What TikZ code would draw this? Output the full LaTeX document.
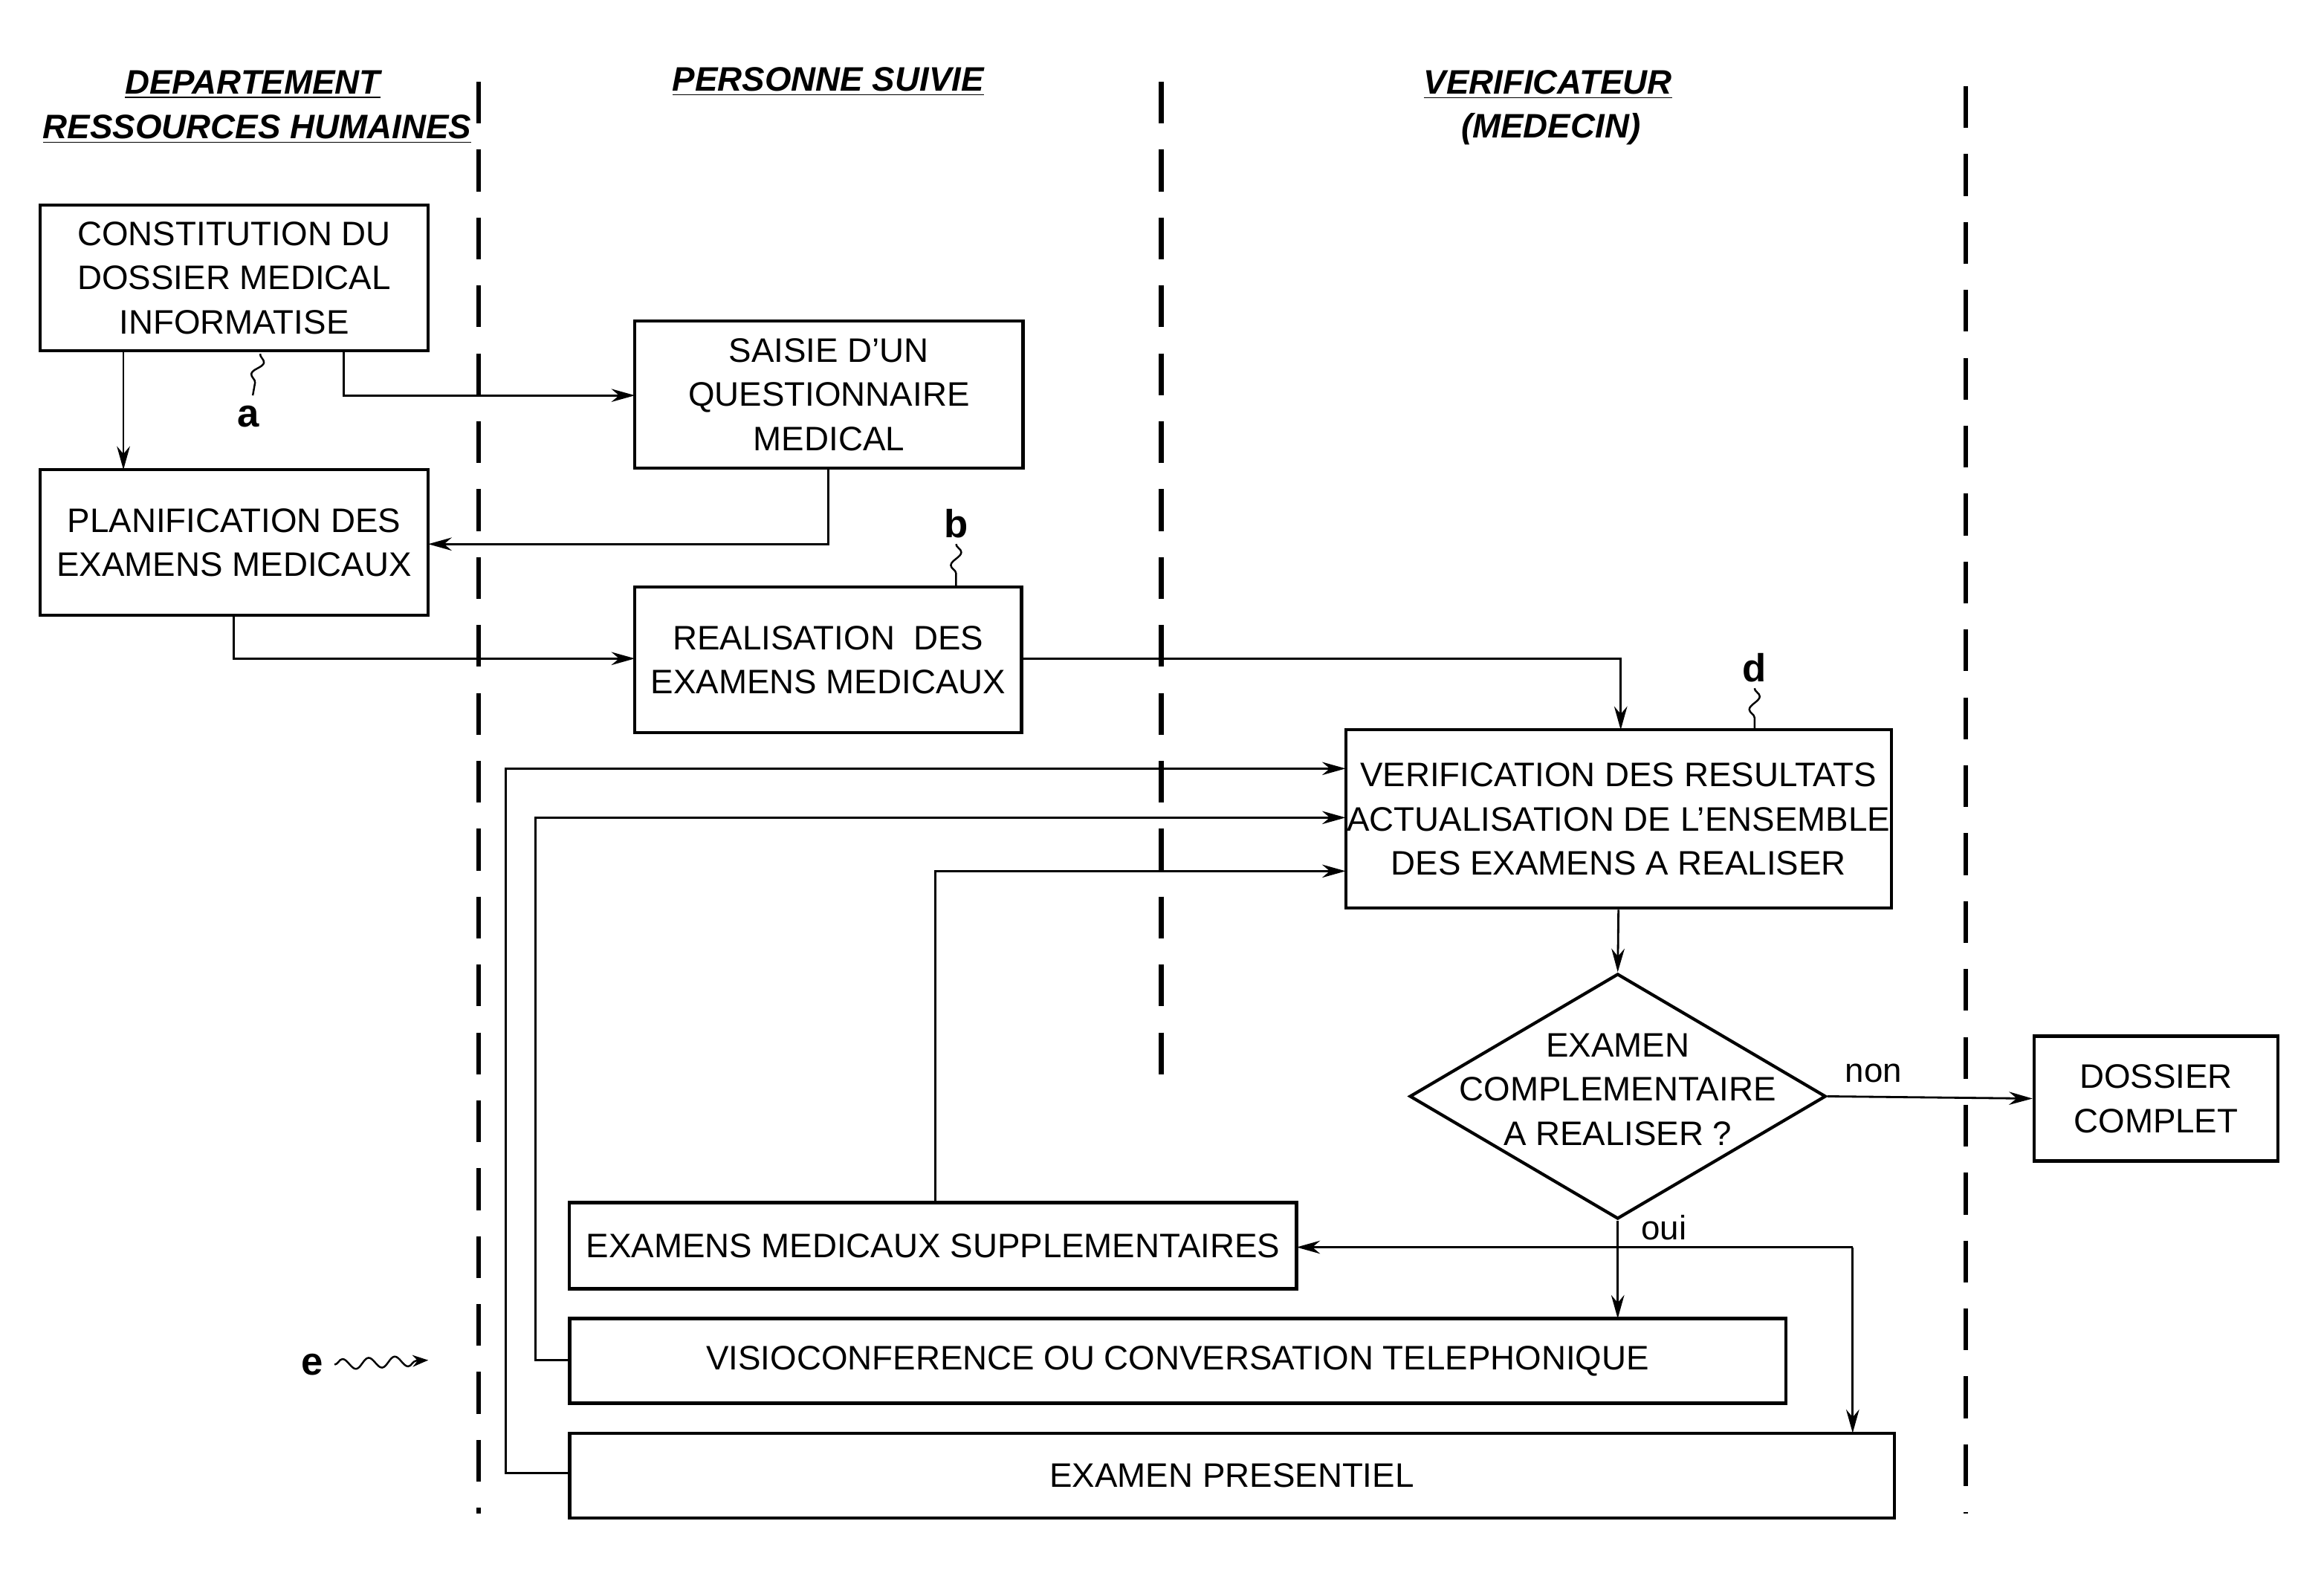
\documentclass[tikz,border=0pt]{standalone}
\usepackage{fontspec}
\setmainfont{Liberation Sans}
\usetikzlibrary{shapes.geometric,arrows.meta,decorations.pathmorphing}
\begin{document}
\begin{tikzpicture}[x=0.02cm,y=-0.02cm,
  every node/.style={font=\fontsize{13}{17}\selectfont},
  box/.style={draw,line width=1.2pt,align=center,inner sep=0pt},
  arr/.style={-{Stealth[length=9pt,width=5pt]},line width=0.8pt},
  ln/.style={line width=0.8pt},
  lane/.style={line width=1.8pt,dash pattern=on 16pt off 10pt},
  hdr/.style={font=\fontsize{13}{17}\selectfont\bfseries\itshape},
  lbl/.style={font=\fontsize{15}{17}\selectfont\bfseries},
  sq/.style={line width=0.7pt,decorate,decoration={snake,amplitude=2pt,segment length=10pt}}]
\useasboundingbox (0,0) rectangle (1563,1058);
\draw[lane] (322,55) -- (322,1018);
\draw[lane] (781,55) -- (781,735);
\draw[lane] (1322,58) -- (1322,1018);
\node[hdr] (h1) at (170,57) {\underline{DEPARTEMENT}};
\node[hdr] (h2) at (173,87) {\underline{RESSOURCES HUMAINES}};
\node[hdr] (h3) at (557,55) {\underline{PERSONNE SUIVIE}};
\node[hdr] (h4) at (1041,57) {\underline{VERIFICATEUR}};
\node[hdr] (h5) at (1043,87) {(MEDECIN)};
\node[box,minimum width=5.22cm,minimum height=1.96cm] (A) at (157.5,187) {CONSTITUTION DU\\DOSSIER MEDICAL\\INFORMATISE};
\node[box,minimum width=5.22cm,minimum height=1.98cm] (B) at (557.5,265.5) {SAISIE D'UN\\QUESTIONNAIRE\\MEDICAL};
\node[box,minimum width=5.22cm,minimum height=1.96cm] (C) at (157.5,365) {PLANIFICATION DES\\EXAMENS MEDICAUX};
\node[box,minimum width=5.2cm,minimum height=1.96cm] (D) at (557,444) {REALISATION\ \ DES\\EXAMENS MEDICAUX};
\node[box,minimum width=7.34cm,minimum height=2.4cm] (E) at (1088.5,551) {VERIFICATION DES RESULTATS\\ACTUALISATION DE L'ENSEMBLE\\DES EXAMENS A REALISER};
\node[box,diamond,minimum width=5.6cm,minimum height=3.3cm,inner sep=0pt] (F) at (1088,737.5) {};
\node[align=center] (Ft) at (1088,733) {EXAMEN\\COMPLEMENTAIRE\\A REALISER ?};
\node[box,minimum width=3.28cm,minimum height=1.68cm] (G) at (1450,739) {DOSSIER\\COMPLET};
\node[box,minimum width=9.78cm,minimum height=1.16cm] (H) at (627.5,838) {EXAMENS MEDICAUX SUPPLEMENTAIRES};
\node[box,minimum width=16.36cm,minimum height=1.14cm] (I) at (792,915.5) {VISIOCONFERENCE OU CONVERSATION TELEPHONIQUE};
\node[box,minimum width=17.82cm,minimum height=1.14cm] (J) at (828.5,992.5) {EXAMEN PRESENTIEL};
\draw[arr] (83,236) -- (83,316);
\draw[arr] (231,236) |- (427,266);
\draw[arr] (557,315) |- (288,366);
\draw[arr] (157,414) |- (427,443);
\draw[arr] (687,443) -| (1090,491);
\draw[arr] (E.south) -- (F.north);
\draw[arr] (F.east) -- (G.west);
\node (non) at (1260,722) {non};
\draw[arr] (F.south) -- (1088,887);
\node (oui) at (1119,826) {oui};
\coordinate (br) at (1246,839);
\draw[arr] (br) -- (872,839);
\draw[arr] (br) -- (1246,964);
\draw[arr] (629,809) |- (905,586);
\draw[arr] (383,915) -- (360,915) |- (905,550);
\draw[arr] (383,991) -- (340,991) |- (905,517);
\node[lbl] (a) at (167,280) {a};
\draw[sq] (175,238) -- (170,266);
\node[lbl] (b) at (643,352) {b};
\draw[sq] (643,366) -- (643,394);
\node[lbl] (d) at (1180,449) {d};
\draw[sq] (1180,463) -- (1180,490);
\node[lbl] (e) at (210,918) {e};
\draw[sq,-{Stealth[length=6pt]}] (225,918) -- (288,915);
\end{tikzpicture}
\end{document}
